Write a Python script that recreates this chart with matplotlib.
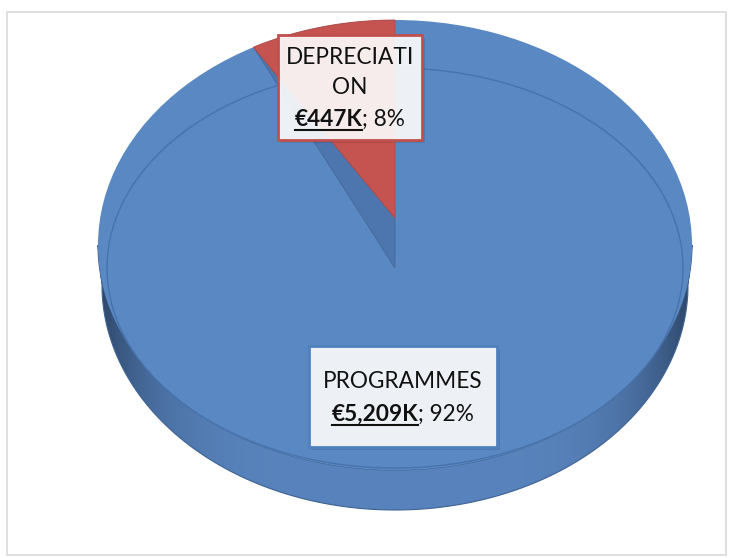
import numpy as np
import matplotlib
matplotlib.use("Agg")
import matplotlib.pyplot as plt
from matplotlib.patches import Ellipse, Polygon, Rectangle

# data
categories = ["PROGRAMMES", "DEPRECIATION"]
values_k = [5209, 447]
shares = [92, 8]
colors = ["#5A88C2", "#C55450"]

plt.rcParams["font.family"] = ["Lato", "DejaVu Sans"]
FS = 16.3

fig = plt.figure(figsize=(7.29, 5.58), dpi=100)
ax = fig.add_axes([0, 0, 1, 1])
ax.set_xlim(0, 729)
ax.set_ylim(558, 0)
ax.axis("off")

# chart area border
ax.add_patch(Rectangle((7, 12), 719, 543, fill=False, ec="#D9D9D9", lw=1.2))

# pie geometry (pixel space)
cx, cy = 395, 245
rx, ry = 297, 225
depth = 40
t = np.linspace(0, np.pi, 200)

# side wall
lower_bot = np.column_stack([cx - (rx - 4) * np.cos(t), cy + depth + ry * np.sin(t)])
lower_top = np.column_stack([cx + rx * np.cos(t), cy + ry * np.sin(t)])
side_pts = np.vstack([lower_bot, lower_top])
side = Polygon(side_pts, closed=True, fc="none", ec="#3E6394", lw=0.8, zorder=2)
ax.add_patch(side)
xs = np.linspace(0, 729, 729)
d = np.clip(np.abs(xs - cx) / rx, 0, 1) ** 5
mid = np.array(matplotlib.colors.to_rgb("#5883BC"))
edge = np.array(matplotlib.colors.to_rgb("#2B4466"))
grad = (mid[None, :] * (1 - d[:, None]) + edge[None, :] * d[:, None])
img = np.repeat(grad[None, :, :], 2, axis=0)
im = ax.imshow(img, extent=[0, 729, 558, 0], aspect="auto", zorder=1)
im.set_clip_path(side)

# top face
ax.add_patch(Ellipse((cx, cy), 2 * rx, 2 * ry, fc=colors[0], ec="none", zorder=3))
# inner rim line
ax.add_patch(Ellipse((cx, cy + 23), 2 * rx - 18, 2 * ry - 50, fc="none",
                     ec="#4773AC", lw=1.0, zorder=4))

# slice angles from the data
total = sum(values_k)
theta = 2 * np.pi * values_k[1] / total
a0, a1 = np.pi / 2, np.pi / 2 + theta
centre = (cx, cy + 23)
apex = (cx, cy - 27)
arc = np.linspace(a0, a1, 60)
arc_pts = np.column_stack([cx + rx * np.cos(arc), cy - ry * np.sin(arc)])
p_end = arc_pts[-1]

# exposed cut face of the big slice
ax.add_patch(Polygon([p_end, apex, centre], closed=True, fc="#4C76AD",
                     ec="#44699B", lw=0.6, zorder=5))
# small slice
ax.add_patch(Polygon(np.vstack([[apex], arc_pts]), closed=True, fc=colors[1],
                     ec="#B04A47", lw=0.6, zorder=6))


def label_box(x0, y0, w, h, ec, lines, last, yl, ylast):
    ax.add_patch(Rectangle((x0 + 3, y0 + 3), w, h, fc="black", alpha=0.10,
                           ec="none", zorder=7))
    ax.add_patch(Rectangle((x0, y0), w, h, fc="white", alpha=0.90, ec="none", zorder=8))
    ax.add_patch(Rectangle((x0, y0), w, h, fill=False, ec=ec, lw=2, zorder=9))
    xm = x0 + w / 2
    for txt, yy in zip(lines, yl):
        ax.text(xm, yy, txt, ha="center", va="center", fontsize=FS, color="#111111",
                zorder=10)
    bold, rest = last
    fig.canvas.draw()
    r = fig.canvas.get_renderer()
    tb = ax.text(0, 0, bold, fontsize=FS, fontweight="bold")
    tr = ax.text(0, 0, rest, fontsize=FS)
    wb = tb.get_window_extent(r).width
    wr = tr.get_window_extent(r).width
    tb.remove()
    tr.remove()
    left = xm - (wb + wr) / 2
    ax.text(left, ylast, bold, ha="left", va="center", fontsize=FS, fontweight="bold",
            color="#111111", zorder=10)
    ax.text(left + wb, ylast, rest, ha="left", va="center", fontsize=FS,
            color="#111111", zorder=10)
    ax.plot([left, left + wb], [ylast + 11, ylast + 11], color="#111111", lw=1.5,
            zorder=10)


label_box(278, 35, 144, 105, "#C0504D", ["DEPRECIATI", "ON"],
          ("€%dK" % values_k[1], "; %d%%" % shares[1]), [57, 88], 119)
label_box(309, 346, 188, 101, "#4F81BD", [categories[0]],
          ("€{:,}K".format(values_k[0]), "; %d%%" % shares[0]), [382], 414)

fig.savefig("out.png", dpi=100)
